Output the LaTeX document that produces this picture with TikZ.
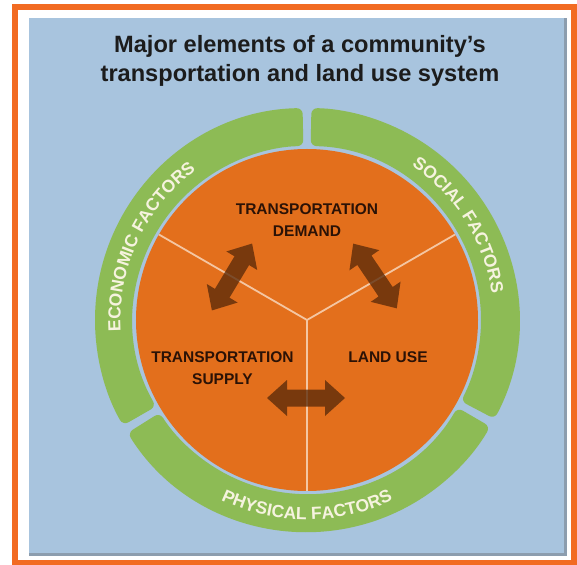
\documentclass[tikz,border=0pt]{standalone}
\usepackage{fontspec}
\setmainfont{Liberation Sans}
\usetikzlibrary{decorations.text}
\definecolor{frameorange}{HTML}{F26B22}
\definecolor{bgblue}{HTML}{A8C4DE}
\definecolor{bgshadow}{HTML}{8C9DAE}
\definecolor{ringgreen}{HTML}{8DBB55}
\definecolor{coreorange}{HTML}{E36F1C}
\definecolor{divline}{HTML}{F4C6A2}
\definecolor{arrowbrown}{HTML}{5A2A0A}
\definecolor{labeldark}{HTML}{2B1206}
\definecolor{titledark}{HTML}{1C1C1C}
\definecolor{ringtext}{HTML}{F6F3DF}
\newcommand\ringfontsize{\fontsize{17.5}{18}\selectfont\bfseries}
\tikzset{
  dblarrow/.pic={\fill[arrowfill] (-39,0) -- (-19,18) -- (-19,8.5) -- (19,8.5) -- (19,18) -- (39,0) -- (19,-18) -- (19,-8.5) -- (-19,-8.5) -- (-19,-18) -- cycle;}
}
\begin{document}
\begin{tikzpicture}[x=1pt,y=1pt,
  segment/.style={fill=ringgreen, rounded corners=6pt},
  boxlabel/.style={font=\fontsize{15.5}{22}\selectfont\bfseries, text=labeldark, align=center, inner sep=0pt},
  titletext/.style={font=\fontsize{23.6}{29}\selectfont\bfseries, text=titledark, inner sep=0pt},
  divider/.style={draw=divline, line width=1.8pt},
  arrowfill/.style={fill=arrowbrown, fill opacity=0.78},
  ringlabel/.style={decorate, decoration={text along path, text align=center, text color=ringtext}},
]
\useasboundingbox (-307,-244) rectangle (270,320);
\fill[white] (-307,-244) rectangle (270,320);
\draw[frameorange, line width=6pt] (-291.5,-243) rectangle (267,313);
\fill[bgshadow] (-278,-236) rectangle (260,302);
\fill[bgblue] (-278,-233) rectangle (257,302);

% title
\node[titletext, anchor=base] (title1) at (-7,267) {Major elements of a community's};
\node[titletext, anchor=base] (title2) at (-7,238) {transportation and land use system};

% green ring segments
\fill[segment] (91.2:212) arc[start angle=91.2, end angle=209.8, radius=212] -- (209.8:174) arc[start angle=209.8, end angle=91.2, radius=174] -- cycle;
\fill[segment] (212.2:212) arc[start angle=212.2, end angle=329.8, radius=212] -- (329.8:174) arc[start angle=329.8, end angle=212.2, radius=174] -- cycle;
\fill[segment] (-27.8:212) arc[start angle=-27.8, end angle=88.8, radius=212] -- (88.8:174) arc[start angle=88.8, end angle=-27.8, radius=174] -- cycle;

% core
\coordinate (hub) at (0,0);
\fill[coreorange] (hub) circle[radius=171];
\draw[divider] (hub) -- (30:171);
\draw[divider] (hub) -- (150:171);
\draw[divider] (hub) -- (270:171);

% arrows
\pic[rotate=59] at (-75,43) {dblarrow};
\pic[rotate=-56] at (68,44) {dblarrow};
\pic at (-1,-78) {dblarrow};

% labels
\node[boxlabel] (demand) at (0,99.6) {TRANSPORTATION\\DEMAND};
\node[boxlabel] (supply) at (-84.5,-48.4) {TRANSPORTATION\\SUPPLY};
\node[boxlabel] (landuse) at (81,-37.4) {LAND USE};

% ring labels
\path[ringlabel, decoration={text={|\ringfontsize|ECONOMIC FACTORS}}] (196:186.5) arc[start angle=196, end angle=114, radius=186.5];
\path[ringlabel, decoration={text={|\ringfontsize|SOCIAL FACTORS}}] (72:186.5) arc[start angle=72, end angle=-8, radius=186.5];
\path[ringlabel, decoration={text={|\ringfontsize|PHYSICAL FACTORS}}] (230:199.5) arc[start angle=230, end angle=310, radius=199.5];
\end{tikzpicture}
\end{document}
